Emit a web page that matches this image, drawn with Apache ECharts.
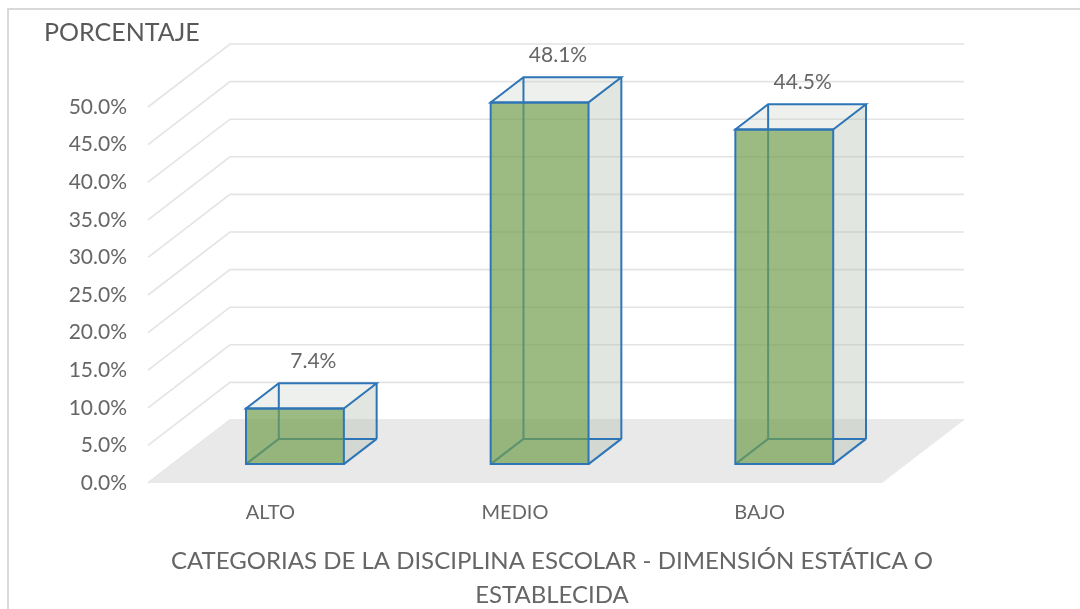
<!DOCTYPE html>
<html>
<head>
<meta charset="utf-8">
<script src="https://cdn.jsdelivr.net/npm/echarts@6/dist/echarts.min.js"></script>
<style>
  html, body { margin: 0; padding: 0; background: #fff; }
  #chart { width: 1080px; height: 609px; }
</style>
</head>
<body>
<div id="chart"></div>
<script>
// ---- data ----
const categories = ['ALTO', 'MEDIO', 'BAJO'];
const values = [0.074, 0.481, 0.445];
const yTicks = [0, 0.05, 0.10, 0.15, 0.20, 0.25, 0.30, 0.35, 0.40, 0.45, 0.50];
const yAxisTitle = 'PORCENTAJE';
const xAxisTitleLines = ['CATEGORIAS DE LA DISCIPLINA ESCOLAR - DIMENSIÓN ESTÁTICA O', 'ESTABLECIDA'];

// ---- style constants ----
const FONT = 'Lato, "Open Sans", sans-serif';
const TEXT = '#666666';
const DX = 82, DY = -63;          // full depth offset of the 3D floor
const BAR_FRONT = 0.3, BAR_BACK = 0.7, BAR_WIDTH = 0.4;
const EDGE = '#2e75b6';

const chart = echarts.init(document.getElementById('chart'), null, { renderer: 'canvas' });

function pct(v) { return (v * 100).toFixed(1) + '%'; }

function renderGrid(params, api) {
  const v = api.value(1);
  const p = api.coord([0, v]);
  const cs = params.coordSys;
  const x0 = cs.x, x1 = cs.x + cs.width, y = p[1];
  return {
    type: 'polyline',
    shape: { points: [[x0, y], [x0 + DX, y + DY], [x1 + DX, y + DY]] },
    style: { stroke: '#e4e4e4', lineWidth: 1.6, fill: null }
  };
}

function renderFloor(params, api) {
  const p = api.coord([0, 0]);
  const cs = params.coordSys;
  const x0 = cs.x, x1 = cs.x + cs.width, y = p[1];
  return {
    type: 'polygon',
    shape: { points: [[x0, y], [x1, y], [x1 + DX, y + DY], [x0 + DX, y + DY]] },
    style: { fill: '#e9e9e9', stroke: null }
  };
}

function line(a, b, color) {
  return { type: 'line', shape: { x1: a[0], y1: a[1], x2: b[0], y2: b[1] },
           style: { stroke: color, lineWidth: 2 } };
}

function renderBar(params, api) {
  const i = api.value(0), v = api.value(1);
  const base = api.coord([i, 0]);
  const top = api.coord([i, v]);
  const bw = api.size([1, 0])[0] * BAR_WIDTH;
  const fx = BAR_FRONT * DX, fy = BAR_FRONT * DY;
  const ddx = (BAR_BACK - BAR_FRONT) * DX, ddy = (BAR_BACK - BAR_FRONT) * DY;
  const xl = base[0] - bw / 2 + fx, xr = xl + bw;
  const yb = base[1] + fy, yt = top[1] + fy;
  const children = [];
  // top face
  children.push({ type: 'polygon',
    shape: { points: [[xl, yt], [xr, yt], [xr + ddx, yt + ddy], [xl + ddx, yt + ddy]] },
    style: { fill: 'rgba(200,208,195,0.32)', stroke: null } });
  // right side face
  children.push({ type: 'polygon',
    shape: { points: [[xr, yt], [xr + ddx, yt + ddy], [xr + ddx, yb + ddy], [xr, yb]] },
    style: { fill: 'rgba(180,189,175,0.38)', stroke: null } });
  // hidden (back) edges
  children.push(line([xl + ddx, yt + ddy], [xl + ddx, yb + ddy], EDGE));
  children.push(line([xl + ddx, yb + ddy], [xr + ddx, yb + ddy], EDGE));
  children.push(line([xl, yb], [xl + ddx, yb + ddy], EDGE));
  // front face
  children.push({ type: 'rect', shape: { x: xl, y: yt, width: bw, height: yb - yt },
    style: { fill: 'rgba(112,158,79,0.70)', stroke: EDGE, lineWidth: 2 } });
  // visible edges
  children.push({ type: 'polygon',
    shape: { points: [[xl, yt], [xr, yt], [xr + ddx, yt + ddy], [xl + ddx, yt + ddy]] },
    style: { fill: null, stroke: EDGE, lineWidth: 2 } });
  children.push(line([xr + ddx, yt + ddy], [xr + ddx, yb + ddy], EDGE));
  children.push(line([xr, yb], [xr + ddx, yb + ddy], EDGE));
  // value label
  children.push({ type: 'text',
    x: (xl + xr + ddx) / 2 + 2, y: yt + ddy - 22,
    style: { text: pct(v), align: 'center', verticalAlign: 'middle',
             fontSize: 21, fontFamily: FONT, fill: TEXT } });
  return { type: 'group', children };
}

const option = {
  backgroundColor: '#ffffff',
  animation: false,
  grid: { left: 148, right: 198, top: 107, bottom: 126 },
  xAxis: {
    type: 'category',
    data: categories,
    axisLine: { show: false },
    axisTick: { show: false },
    splitLine: { show: false },
    axisLabel: { color: TEXT, fontSize: 20, fontFamily: FONT, margin: 20 }
  },
  yAxis: {
    type: 'value',
    min: 0, max: 0.5, interval: 0.05,
    axisLine: { show: false },
    axisTick: { show: false },
    splitLine: { show: false },
    axisLabel: { color: TEXT, fontSize: 21, fontFamily: FONT, margin: 21, formatter: pct }
  },
  graphic: [
    { type: 'rect', shape: { x: 8, y: 9, width: 1200, height: 700 },
      style: { fill: null, stroke: '#d9d9d9', lineWidth: 2 }, silent: true, z: -10 },
    { type: 'text', x: 44, y: 33,
      style: { text: yAxisTitle, align: 'left', verticalAlign: 'middle',
               fontSize: 25, fontFamily: FONT, fill: '#595959' } },
    { type: 'text', x: 552, y: 561,
      style: { text: xAxisTitleLines[0], align: 'center', verticalAlign: 'middle',
               fontSize: 24, fontFamily: FONT, fill: TEXT } },
    { type: 'text', x: 552, y: 595,
      style: { text: xAxisTitleLines[1], align: 'center', verticalAlign: 'middle',
               fontSize: 24, fontFamily: FONT, fill: TEXT } }
  ],
  series: [
    { type: 'custom', name: 'grid', renderItem: renderGrid, silent: true, z: 1,
      encode: { x: 0, y: 1 }, data: yTicks.map(v => [0, v]) },
    { type: 'custom', name: 'floor', renderItem: renderFloor, silent: true, z: 2,
      encode: { x: 0, y: 1 }, data: [[0, 0]] },
    { type: 'custom', name: 'bars', renderItem: renderBar, z: 3,
      encode: { x: 0, y: 1 }, data: categories.map((c, i) => [i, values[i]]) }
  ]
};
chart.setOption(option);
</script>
</body>
</html>
